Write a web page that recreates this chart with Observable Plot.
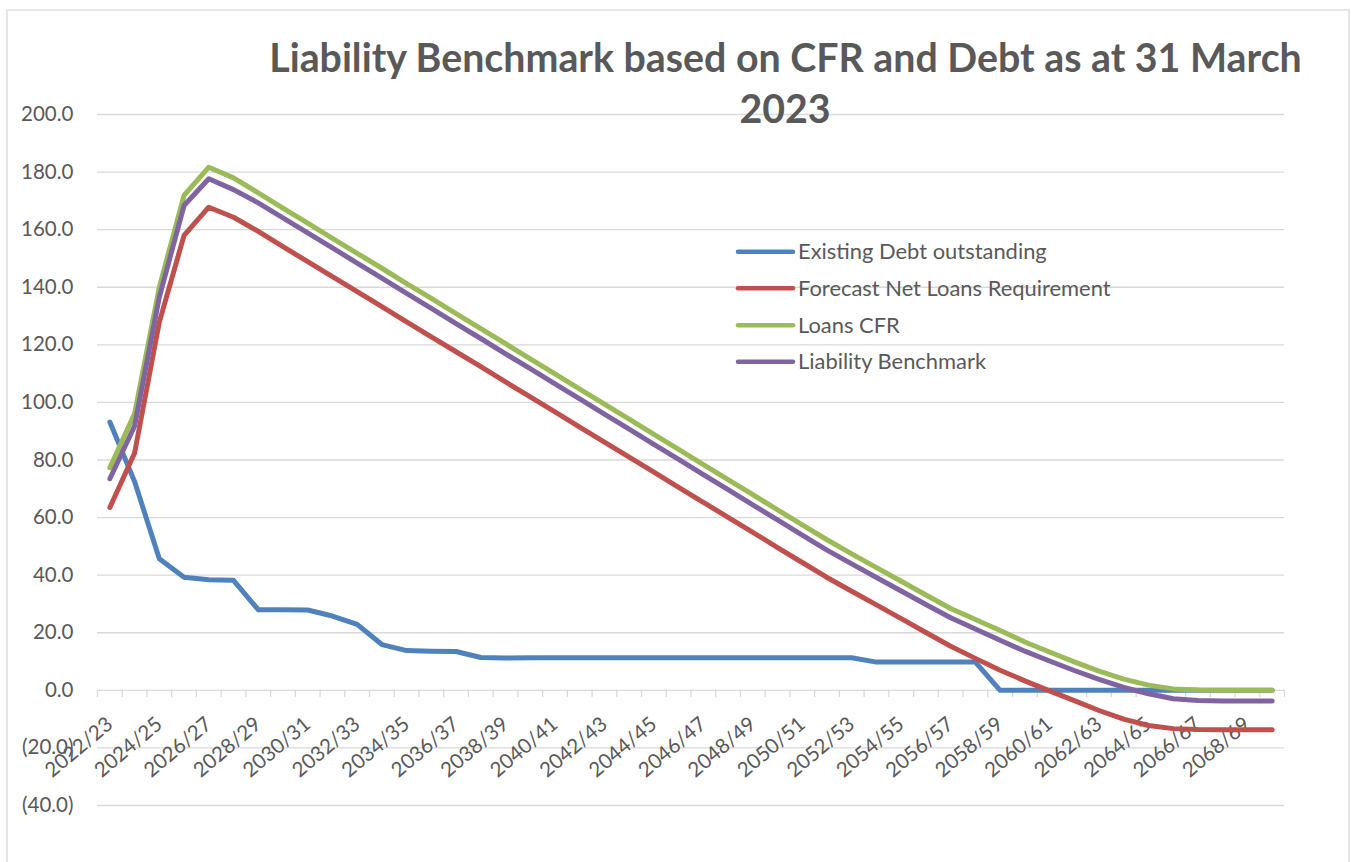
<!DOCTYPE html>
<html><head><meta charset="utf-8">
<script src="https://cdn.jsdelivr.net/npm/d3@7"></script>
<script src="https://cdn.jsdelivr.net/npm/@observablehq/plot@0.6"></script>
<style>
body{margin:0;background:#fff}
#wrap{position:relative;width:1351px;height:862px;overflow:hidden;font-family:Lato,sans-serif}
#wrap svg{position:absolute;left:0;top:0}
</style>
</head><body><div id="wrap"></div>
<script>
const years = ["2022/23","2023/24","2024/25","2025/26","2026/27","2027/28","2028/29","2029/30","2030/31","2031/32",
"2032/33","2033/34","2034/35","2035/36","2036/37","2037/38","2038/39","2039/40","2040/41","2041/42",
"2042/43","2043/44","2044/45","2045/46","2046/47","2047/48","2048/49","2049/50","2050/51","2051/52",
"2052/53","2053/54","2054/55","2055/56","2056/57","2057/58","2058/59","2059/60","2060/61","2061/62",
"2062/63","2063/64","2064/65","2065/66","2066/67","2067/68","2068/69","2069/70"];

const existingDebt = [93.2,72.5,45.7,39.3,38.4,38.2,28.0,28.0,27.9,25.8,
22.9,15.9,13.8,13.6,13.5,11.4,11.2,11.3,11.3,11.3,
11.3,11.3,11.3,11.3,11.3,11.3,11.3,11.3,11.3,11.3,
11.3,9.8,9.8,9.8,9.8,9.8,0,0,0,0,
0,0,0,0,0,0,0,0];

const forecastNetLoans = [63.5,82.4,127.9,158.0,167.8,164.3,159.4,154.1,148.9,143.7,
138.5,133.3,128.0,122.8,117.6,112.4,107.1,101.9,96.7,91.4,
86.2,81.0,75.8,70.5,65.3,60.1,54.9,49.6,44.4,39.2,
34.4,29.7,24.9,20.1,15.3,11.1,7.0,3.3,-0.2,-3.6,
-7.0,-10.0,-12.2,-13.3,-13.6,-13.7,-13.7,-13.7];

const loansCFR = [77.3,96.1,140.0,171.9,181.7,178.0,172.8,167.5,162.3,157.0,
151.8,146.6,141.3,136.1,130.8,125.6,120.4,115.1,109.9,104.6,
99.4,94.2,88.9,83.7,78.4,73.2,68.0,62.7,57.5,52.3,
47.4,42.6,37.9,33.1,28.4,24.6,20.8,16.8,13.3,9.9,
6.7,3.9,1.8,0.5,0.1,0,0,0];

const liabilityBenchmark = [73.5,91.8,136.6,168.4,177.7,173.9,169.3,164.1,158.9,153.7,
148.4,143.2,137.9,132.7,127.4,122.2,116.9,111.7,106.4,101.2,
95.9,90.7,85.4,80.2,74.9,69.7,64.4,59.2,53.9,48.7,
43.9,39.2,34.5,29.8,25.2,21.3,17.4,13.6,10.2,6.9,
3.8,1.0,-1.2,-2.9,-3.5,-3.7,-3.7,-3.7];

const seriesNames = ["Existing Debt outstanding","Forecast Net Loans Requirement","Loans CFR","Liability Benchmark"];
const seriesColors = ["#4F81BD","#C0504D","#9BBB59","#8064A2"];
const seriesValues = [existingDebt, forecastNetLoans, loansCFR, liabilityBenchmark];
const yTicks = [-40,-20,0,20,40,60,80,100,120,140,160,180,200];
const xLabels = years.filter((d,i) => i % 2 === 0);
const titleLines = ["Liability Benchmark based on CFR and Debt as at 31 March", "2023"];

const W = 1351, H = 862, mL = 97, mR = 67, mT = 114, mB = 57;
const step = (W - mL - mR) / years.length;
const grid = "#D9D9D9", textCol = "#595959";
const fmt = v => v < 0 ? `(${Math.abs(v).toFixed(1)})` : v.toFixed(1);

const lineMarks = seriesValues.map((vals, k) =>
  Plot.line(vals, {x: (d,i) => years[i], y: d => d, stroke: seriesColors[k], strokeWidth: 5,
    strokeLinejoin: "round", strokeLinecap: "round"}));

const chart = Plot.plot({
  width: W, height: H, marginLeft: mL, marginRight: mR, marginTop: mT, marginBottom: mB,
  style: {fontFamily: "Lato, sans-serif", fontSize: "20.5px", color: textCol, background: "transparent", overflow: "visible"},
  x: {type: "point", domain: years, padding: 0.5, axis: null},
  y: {domain: [-40, 200], ticks: yTicks, tickFormat: fmt, tickSize: 0, tickPadding: 24, label: null},
  marks: [
    Plot.ruleY(yTicks, {stroke: grid, strokeWidth: 1.3}),
    Plot.ruleX(years, {x: d => d, y1: 0, y2: -2.5, dx: -step/2, stroke: grid, strokeWidth: 1.3}),
    Plot.ruleX([years[years.length-1]], {x: d => d, y1: 0, y2: -2.5, dx: step/2, stroke: grid, strokeWidth: 1.3}),
    Plot.text(xLabels, {x: d => d, y: 0, text: d => d, rotate: -40, textAnchor: "end", dx: 0, dy: 31,
      fontSize: 20.5, fill: textCol}),
    ...lineMarks
  ]
});
const wrap = document.getElementById("wrap");
wrap.appendChild(chart);

// overlay: frame, title, legend
const ov = d3.select(wrap).append("svg").attr("width", W).attr("height", H)
  .style("font-family", "Lato, sans-serif").style("pointer-events", "none");
ov.append("rect").attr("x", 7).attr("y", 10).attr("width", 1342).attr("height", 900)
  .attr("fill", "none").attr("stroke", grid).attr("stroke-width", 1.3);

const t1 = ov.append("text").attr("x", 785.5).attr("y", 72).attr("text-anchor", "middle")
  .attr("font-weight", 700).attr("font-size", 36).attr("fill", textCol).text(titleLines[0]);
const w1 = t1.node().getComputedTextLength();
const tSize = 36 * 1033 / w1;
t1.attr("font-size", tSize);
ov.append("text").attr("x", 785).attr("y", 123).attr("text-anchor", "middle")
  .attr("font-weight", 700).attr("font-size", tSize).attr("fill", textCol).text(titleLines[1]);

const legY = [251.7, 288.3, 325.3, 361.7];
const lg = ov.append("g");
let lSize = 21;
seriesNames.forEach((name, k) => {
  lg.append("line").attr("x1", 738).attr("x2", 793).attr("y1", legY[k]).attr("y2", legY[k])
    .attr("stroke", seriesColors[k]).attr("stroke-width", 4.5).attr("stroke-linecap", "round");
  const t = lg.append("text").attr("class", "lt").attr("x", 798).attr("y", legY[k] + 7.5)
    .attr("font-size", lSize).attr("fill", textCol).text(name);
  if (k === 0) { lSize = 21 * 249 / t.node().getComputedTextLength(); t.attr("font-size", lSize); }
  else t.attr("font-size", lSize);
});
</script></body></html>
